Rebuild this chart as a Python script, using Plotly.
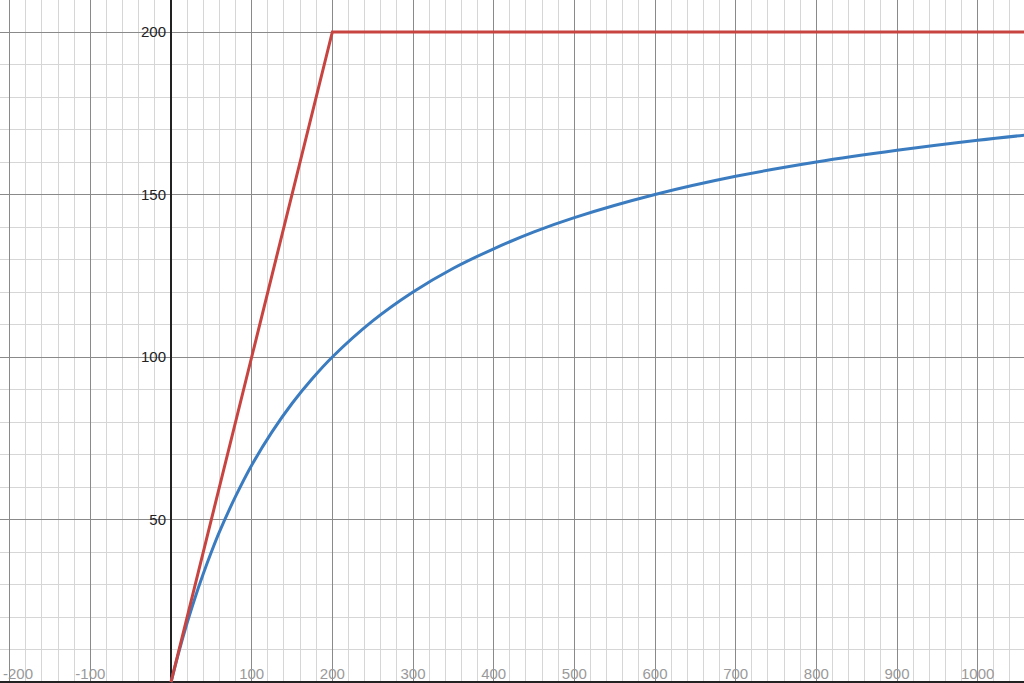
import plotly.graph_objects as go

# curve readings
x_blue = [0, 10, 20, 30, 40, 50, 60, 80, 100, 125, 150, 175, 200, 250, 300, 350,
          400, 450, 500, 600, 700, 800, 900, 1000, 1060]
y_blue = [0, 9.5, 18.2, 26.1, 33.3, 40, 46.2, 57.1, 66.7, 76.9, 85.7, 93.3, 100,
          111.1, 120, 127.3, 133.3, 138.5, 142.9, 150, 155.6, 160, 163.6, 166.7, 168.3]

x_red = [0, 200, 1060]
y_red = [0, 200, 200]

x_ticks = [-200, -100, 100, 200, 300, 400, 500, 600, 700, 800, 900, 1000]
y_ticks = [50, 100, 150, 200]

x_range = [-212, 1057.4]
y_range = [-0.3, 209.85]

# -200 sits right at the edge; pad it so the label stays in view like the original
x_text = [str(v) for v in x_ticks]
x_text[0] = "\u00a0\u00a0\u00a0\u00a0" + x_text[0]

fig = go.Figure()
fig.add_trace(go.Scatter(x=x_blue, y=y_blue, mode="lines", line=dict(color="#3b7cc0", width=3, shape="spline"),
                         showlegend=False))
fig.add_trace(go.Scatter(x=x_red, y=y_red, mode="lines", line=dict(color="#c74440", width=3),
                         showlegend=False))

fig.update_layout(
    width=1024, height=683,
    margin=dict(l=0, r=0, t=0, b=0, pad=0, autoexpand=False),
    plot_bgcolor="white", paper_bgcolor="white",
    font=dict(family="Liberation Sans, Arial, sans-serif"),
    xaxis=dict(
        range=x_range, tickvals=x_ticks, ticktext=x_text,
        showgrid=True, gridcolor="#8a8a8a", gridwidth=1,
        minor=dict(dtick=20, tick0=0, showgrid=True, gridcolor="#d6d6d6", gridwidth=1),
        zeroline=True, zerolinecolor="#222222", zerolinewidth=2,
        ticks="", showline=False, automargin=False,
        anchor="free", position=0.03, ticklabelstandoff=0,
        ticklabeloverflow="allow",
        tickfont=dict(size=15, color="#9a9a9a"),
    ),
    yaxis=dict(
        range=y_range, tickvals=y_ticks, ticktext=[str(v) for v in y_ticks],
        showgrid=True, gridcolor="#8a8a8a", gridwidth=1,
        minor=dict(dtick=10, tick0=0, showgrid=True, gridcolor="#d6d6d6", gridwidth=1),
        zeroline=True, zerolinecolor="#222222", zerolinewidth=2,
        ticks="", showline=False, automargin=False,
        anchor="free", position=(0 - x_range[0]) / (x_range[1] - x_range[0]),
        ticklabelstandoff=5,
        tickfont=dict(size=15, color="#222222"),
    ),
)

fig.write_html("out.html", config={"displayModeBar": False},
               post_script="document.body.style.margin='0';")
